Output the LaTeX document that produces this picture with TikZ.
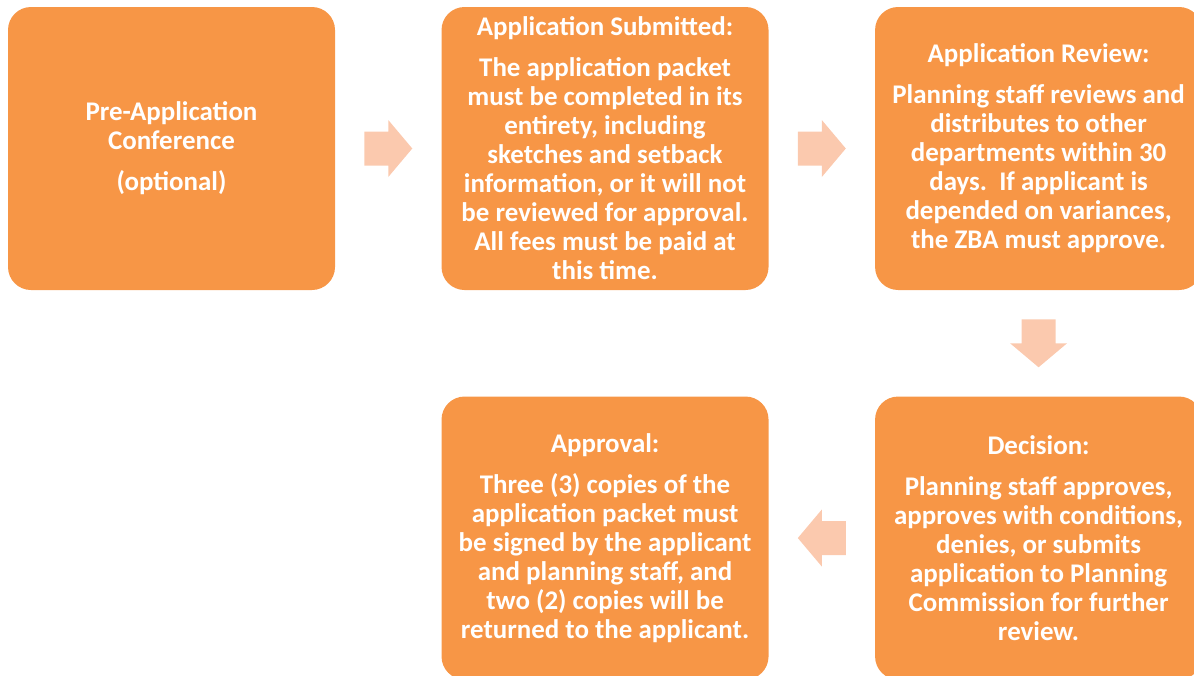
\documentclass[tikz,border=0pt]{standalone}
\usepackage{fontspec}
\setmainfont{Carlito}
\usetikzlibrary{positioning,calc}

\definecolor{steporange}{HTML}{F79646}
\definecolor{arrowpeach}{RGB}{251,201,174}

\tikzset{
    stepbox/.style={draw=none, fill=steporange, rounded corners=17.25pt,
        minimum width=245.25pt, minimum height=212.25pt, inner sep=0pt,
        text=white, align=center,
        font=\fontsize{20.2}{21.75}\selectfont\bfseries},
    flowarrow/.style={fill=arrowpeach, draw=none}
}

\newcommand{\blockarrow}[2]{%
    \fill[flowarrow, shift={(#1)}, rotate=#2]
        (-24,-17) -- (0,-17) -- (0,-28.5) -- (24,0) -- (0,28.5) -- (0,17) -- (-24,17) -- cycle;}

\begin{document}
\begin{tikzpicture}[x=0.75pt, y=-0.75pt]
    \useasboundingbox (0,0) rectangle (1194,675);
    \clip (0,0) rectangle (1194,675);

    % Draw the steps
    \node [stepbox] (pre) at (171.5,148.5)
        {Pre-Application\\ Conference\\[9pt] (optional)};
    \node [stepbox, right=79.5pt of pre] (submitted)
        {Application Submitted:\\[9pt] The application packet\\ must be completed in its\\
         entirety, including\\ sketches and setback\\ information, or it will not\\
         be reviewed for approval.\\ All fees must be paid at\\ this time.};
    \node [stepbox, right=79.5pt of submitted] (review)
        {Application Review:\\[9pt] Planning staff reviews and\\ distributes to other\\
         departments within 30\\ days.\ \ If applicant is\\ depended on variances,\\
         the ZBA must approve.};
    \node [stepbox, below=79.5pt of review] (decision)
        {Decision:\\[9pt] Planning staff approves,\\ approves with conditions,\\
         denies, or submits\\ application to Planning\\ Commission for further\\ review.};
    \node [stepbox, left=79.5pt of decision] (approval)
        {Approval:\\[9pt] Three (3) copies of the\\ application packet must\\
         be signed by the applicant\\ and planning staff, and\\ two (2) copies will be\\
         returned to the applicant.};

    % Draw the arrows between steps
    \coordinate (a1) at ($(pre.east)!0.5!(submitted.west)$);
    \coordinate (a2) at ($(submitted.east)!0.5!(review.west)$);
    \coordinate (a3) at ($(review.south)!0.5!(decision.north)$);
    \coordinate (a4) at ($(decision.west)!0.5!(approval.east)$);
    \blockarrow{a1}{0}
    \blockarrow{a2}{0}
    \blockarrow{a3}{-90}
    \blockarrow{a4}{180}
\end{tikzpicture}
\end{document}
